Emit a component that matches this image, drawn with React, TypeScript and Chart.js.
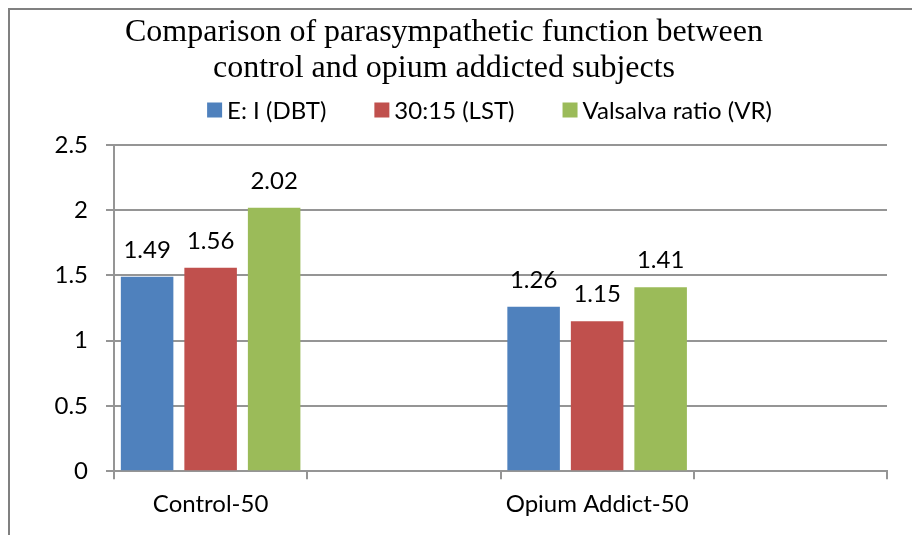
import React, { useEffect, useRef } from "react";
import { Chart, registerables } from "chart.js";

Chart.register(...registerables);

const categories = ["Control-50", "", "Opium Addict-50", ""];
const seriesNames = ["E: I (DBT)", "30:15 (LST)", "Valsalva ratio (VR)"];
const eiDbt = [1.49, null, 1.26, null];
const lst3015 = [1.56, null, 1.15, null];
const valsalvaRatio = [2.02, null, 1.41, null];
const seriesColors = ["#4F81BD", "#C0504D", "#9BBB59"];
const titleLines = [
  "Comparison of parasympathetic function between",
  "control and opium addicted subjects",
];
const yMin = 0;
const yMax = 2.5;
const yStep = 0.5;

const FONT = "Lato, 'Noto Sans', sans-serif";
const FS = 24;
const GRID = "#959595";

const dataLabelsPlugin = {
  id: "dataLabels",
  afterDatasetsDraw(chart: any) {
    const ctx = chart.ctx;
    ctx.save();
    ctx.font = `${FS}px ${FONT}`;
    ctx.fillStyle = "#000";
    ctx.textAlign = "center";
    ctx.textBaseline = "alphabetic";
    chart.data.datasets.forEach((ds: any, di: number) => {
      const meta = chart.getDatasetMeta(di);
      meta.data.forEach((el: any, i: number) => {
        const v = ds.data[i];
        if (v === null || v === undefined) return;
        ctx.fillText(v.toFixed(2), el.x, el.y - 19);
      });
    });
    ctx.restore();
  },
};

const legendPlugin = {
  id: "customLegend",
  afterDraw(chart: any) {
    const ctx = chart.ctx;
    ctx.save();
    ctx.font = `${FS}px ${FONT}`;
    const box = 15;
    const gapBoxText = 5;
    const gapItems = 48;
    const items = chart.data.datasets.map((d: any) => ({
      text: d.label,
      color: d.backgroundColor,
    }));
    const widths = items.map(
      (it: any) => box + gapBoxText + ctx.measureText(it.text).width
    );
    const total =
      widths.reduce((a: number, b: number) => a + b, 0) +
      gapItems * (items.length - 1);
    const ca = chart.chartArea;
    const cx = (ca.left + ca.right) / 2 - 11;
    let x = cx - total / 2;
    const y = ca.top - 35;
    ctx.textBaseline = "middle";
    ctx.textAlign = "left";
    items.forEach((it: any, i: number) => {
      ctx.fillStyle = it.color;
      ctx.fillRect(x, y - box / 2, box, box);
      ctx.fillStyle = "#000";
      ctx.fillText(it.text, x + box + gapBoxText, y + 1);
      x += widths[i] + gapItems;
    });
    ctx.restore();
  },
};

export default function App() {
  const ref = useRef<HTMLCanvasElement | null>(null);
  useEffect(() => {
    if (!ref.current) return;
    const series = [eiDbt, lst3015, valsalvaRatio];
    const chart = new Chart(ref.current, {
      type: "bar",
      data: {
        labels: categories,
        datasets: series.map((d, i) => ({
          label: seriesNames[i],
          data: d,
          backgroundColor: seriesColors[i],
          borderWidth: 0,
          categoryPercentage: 0.986,
          barPercentage: 0.827,
        })),
      },
      options: {
        responsive: false,
        animation: false,
        devicePixelRatio: 1,
        layout: { padding: { left: 1, right: 25, top: 0, bottom: 5 } },
        plugins: {
          legend: { display: false },
          tooltip: { enabled: false },
          title: {
            display: true,
            text: titleLines,
            color: "#000",
            font: {
              family: "'Liberation Serif', 'Times New Roman', serif",
              size: 32,
              weight: "normal",
              lineHeight: 1.125,
            },
            padding: { top: 15, bottom: 58 },
          },
        },
        scales: {
          x: {
            grid: {
              display: true,
              drawOnChartArea: false,
              drawTicks: true,
              offset: true,
              tickLength: 8,
              color: GRID,
              lineWidth: 2,
            },
            border: { display: true, color: GRID, width: 2 },
            ticks: {
              color: "#000",
              font: { family: FONT, size: FS },
              padding: 11,
              maxRotation: 0,
              autoSkip: false,
            },
          },
          y: {
            min: yMin,
            max: yMax,
            afterFit(scale: any) {
              scale.width = 113;
            },
            grid: {
              color: GRID,
              lineWidth: 2,
              drawTicks: true,
              tickLength: 8,
            },
            border: { display: true, color: GRID, width: 2 },
            ticks: {
              stepSize: yStep,
              color: "#000",
              font: { family: FONT, size: FS },
              padding: 18,
              callback: (v: any) => String(Number(v)),
            },
          },
        },
      },
      plugins: [dataLabelsPlugin, legendPlugin],
    });
    return () => chart.destroy();
  }, []);

  return (
    <div
      style={{
        position: "absolute",
        left: 0,
        top: 0,
        width: 912,
        height: 535,
        background: "#fff",
      }}
    >
      <div
        style={{
          position: "absolute",
          left: 8,
          top: 8,
          width: 920,
          height: 540,
          borderLeft: "2px solid #808080",
          borderTop: "2px solid #808080",
        }}
      />
      <canvas
        ref={ref}
        width={912}
        height={535}
        style={{ position: "absolute", left: 0, top: 0 }}
      />
    </div>
  );
}
